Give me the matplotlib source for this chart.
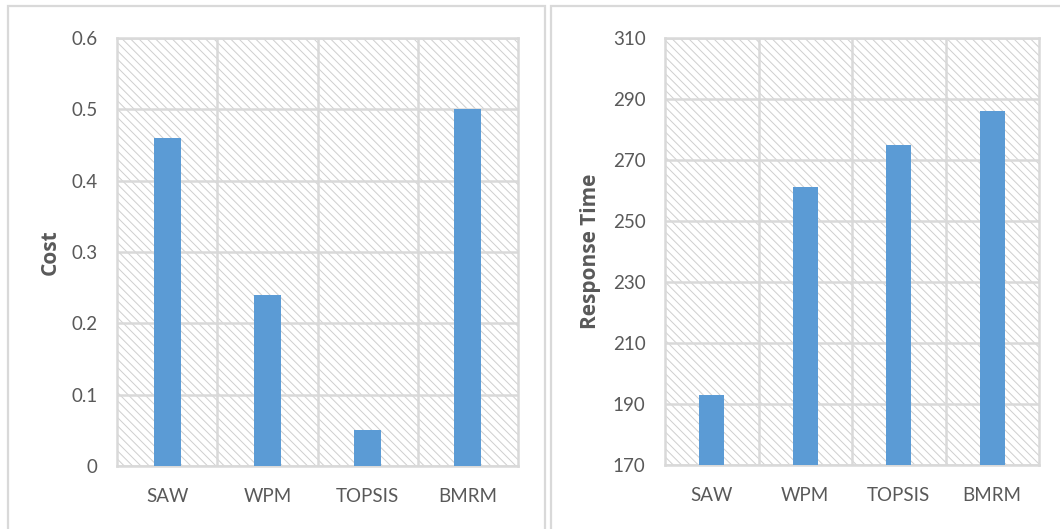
import matplotlib.pyplot as plt
from matplotlib.patches import Rectangle
from matplotlib.ticker import FixedLocator

# Methods compared and their scores
methods = ["SAW", "WPM", "TOPSIS", "BMRM"]
cost = [0.46, 0.24, 0.05, 0.50]
response_time = [193, 261, 275, 286]

cost_ticks = [0, 0.1, 0.2, 0.3, 0.4, 0.5, 0.6]
time_ticks = [170, 190, 210, 230, 250, 270, 290, 310]

BAR = "#5B9BD5"
GRID = "#d9d9d9"
TEXT = "#595959"

plt.rcParams['font.family'] = ['Lato', 'DejaVu Sans']
plt.rcParams['hatch.linewidth'] = 0.7

fig = plt.figure(figsize=(10.6, 5.29), dpi=100)

# panel frames
for x0, w in [(8 / 1060, 537 / 1060), (551 / 1060, 515 / 1060)]:
    fig.patches.append(Rectangle((x0, -0.05), w, 1.05 - 6 / 529, transform=fig.transFigure,
                                 fill=False, edgecolor=GRID, linewidth=1.6))


def bar_panel(rect, values, ticks, ylabel, label_x):
    ax = fig.add_axes(rect)
    ax.add_patch(Rectangle((0, 0), 1, 1, transform=ax.transAxes, facecolor="white",
                           edgecolor="#cfcfcf", hatch="\\\\\\\\", linewidth=0, zorder=0))
    x = range(len(methods))
    ax.bar(x, values, width=0.27, color=BAR, zorder=3)
    ax.set_xlim(-0.5, len(methods) - 0.5)
    ax.set_ylim(ticks[0], ticks[-1])
    ax.set_yticks(ticks)
    ax.set_yticklabels([f"{t:g}" for t in ticks])
    ax.set_xticks(list(x))
    ax.set_xticklabels(methods)
    ax.xaxis.set_minor_locator(FixedLocator([i + 0.5 for i in range(len(methods) - 1)]))
    ax.grid(axis="y", which="major", color=GRID, linewidth=1.8, zorder=1)
    ax.grid(axis="x", which="minor", color=GRID, linewidth=1.8, zorder=1)
    ax.grid(axis="x", which="major", visible=False)
    ax.set_axisbelow(True)
    for s in ax.spines.values():
        s.set_color(GRID)
        s.set_linewidth(1.8)
    ax.tick_params(which="both", length=0, labelsize=13.5, colors=TEXT)
    ax.tick_params(axis="y", pad=14)
    ax.tick_params(axis="x", pad=16)
    ax.set_ylabel(ylabel, fontsize=15, fontweight="bold", color=TEXT,
                  family=["Open Sans", "DejaVu Sans"])
    ax.yaxis.set_label_coords(label_x, 0.5)
    return ax


bar_panel([117 / 1060, 1 - 466 / 529, 401 / 1060, 428 / 529], cost, cost_ticks, "Cost", -0.14)
bar_panel([665 / 1060, 1 - 465 / 529, 374 / 1060, 427 / 529], response_time, time_ticks,
          "Response Time", -0.171)

fig.savefig("out.png", dpi=100)
